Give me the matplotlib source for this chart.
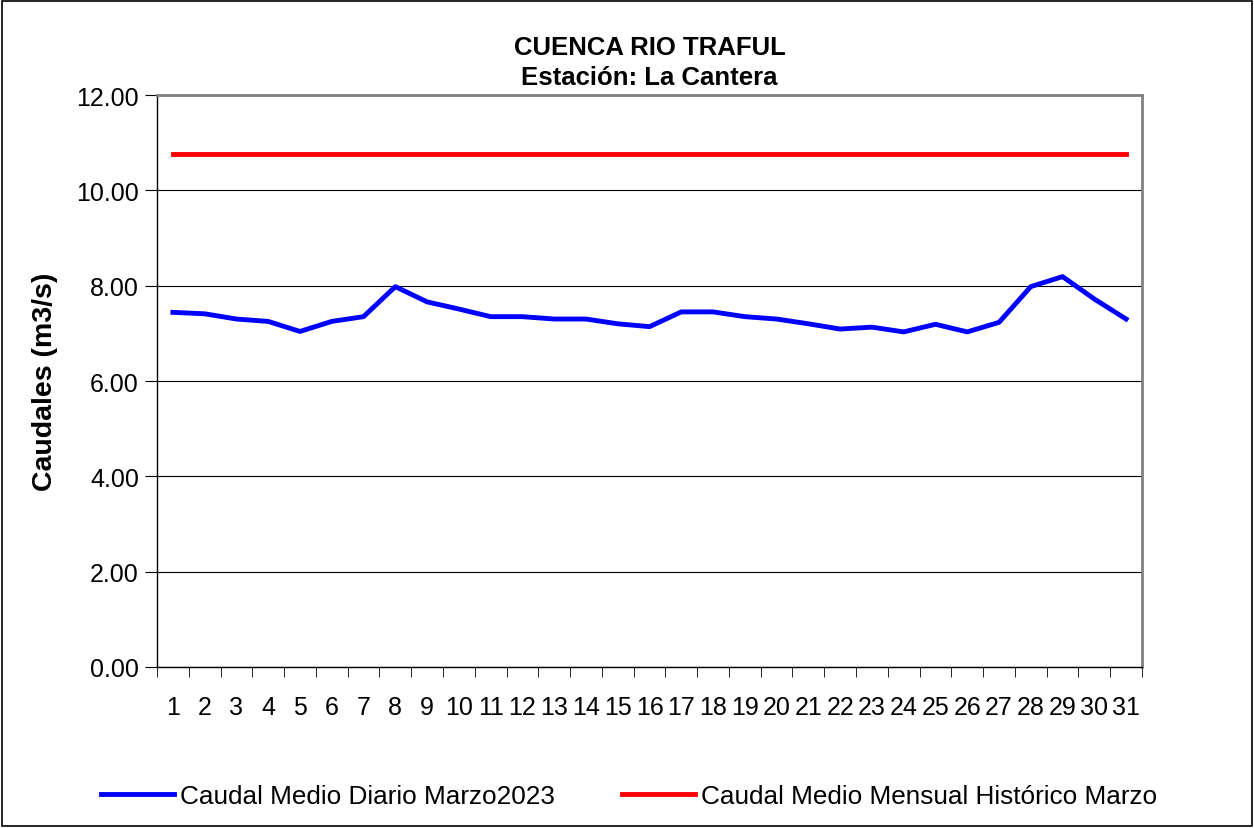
import numpy as np
import matplotlib.pyplot as plt
from matplotlib.patches import Rectangle

plt.rcParams['font.family'] = ['Liberation Sans', 'DejaVu Sans']

# Data
dias = [str(d) for d in range(1, 32)]
caudal_diario = [7.44, 7.41, 7.30, 7.25, 7.04, 7.25, 7.35, 7.98, 7.66, 7.51,
                 7.35, 7.35, 7.30, 7.30, 7.20, 7.14, 7.45, 7.45, 7.35, 7.30,
                 7.20, 7.09, 7.13, 7.03, 7.19, 7.03, 7.23, 7.98, 8.19, 7.72,
                 7.30]
caudal_historico = [10.76] * 31
yticks = [0, 2, 4, 6, 8, 10, 12]

W, H = 1254, 829
fig = plt.figure(figsize=(W / 100, H / 100), dpi=100)
ax = fig.add_axes([157 / W, 1 - 668 / H, (1142 - 157) / W, (668 - 96) / H])

x = np.arange(1, 32)
ax.plot(x, caudal_diario, color='#0000ff', lw=3.5,
        label='Caudal Medio Diario Marzo2023', solid_joinstyle='round')
ax.plot(x, caudal_historico, color='#ff0000', lw=3.5,
        label='Caudal Medio Mensual Histórico Marzo')

ax.set_xlim(0.5, 31.5)
ax.set_ylim(0, 12)
ax.set_yticks(yticks)
ax.set_yticklabels([f'{v:.2f}' for v in yticks])
ax.set_xticks(x)
ax.set_xticklabels(dias)
ax.set_xticks(np.arange(0.5, 32, 1), minor=True)
ax.tick_params(axis='x', which='major', length=0, pad=20, labelsize=18)
ax.tick_params(axis='x', which='minor', length=7, direction='out')
ax.tick_params(axis='y', length=9, direction='out', labelsize=18, pad=4)
ax.yaxis.grid(True, color='#000000', lw=0.8)
ax.set_axisbelow(True)
for s in ['top', 'right']:
    ax.spines[s].set_color('#808080')
    ax.spines[s].set_linewidth(2)
for s in ['left', 'bottom']:
    ax.spines[s].set_color('#000000')
    ax.spines[s].set_linewidth(1)

ax.set_ylabel('Caudales (m3/s)', fontsize=20.5, fontweight='bold', labelpad=13)
ax.set_title('CUENCA RIO TRAFUL\nEstación: La Cantera', fontsize=18.5,
             fontweight='bold', pad=8, linespacing=1.3)

fig.legend(loc='center', bbox_to_anchor=(629 / W, 1 - 797 / H), ncol=2,
           frameon=False, fontsize=18.8, handlelength=2.8, columnspacing=2.6,
           handletextpad=0.2)

fig.patches.append(Rectangle((2 / W, 2 / H), 1 - 4 / W, 1 - 4 / H,
                             transform=fig.transFigure, fill=False,
                             edgecolor='black', lw=1.2))

fig.savefig('out.png', dpi=100)
